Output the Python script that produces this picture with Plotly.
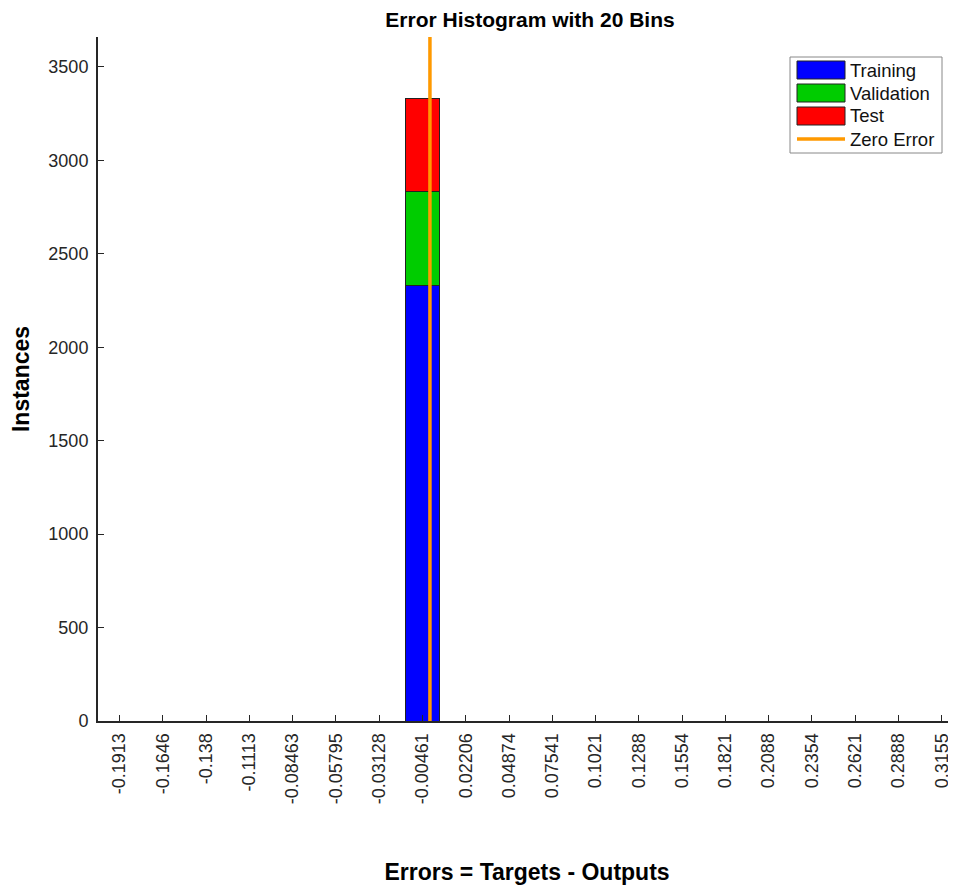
import plotly.graph_objects as go

bin_centers = [-0.1913, -0.1646, -0.138, -0.1113, -0.08463, -0.05795, -0.03128, -0.00461,
               0.02206, 0.04874, 0.07541, 0.1021, 0.1288, 0.1554, 0.1821, 0.2088,
               0.2354, 0.2621, 0.2888, 0.3155]
tick_labels = ["-0.1913", "-0.1646", "-0.138", "-0.1113", "-0.08463", "-0.05795", "-0.03128", "-0.00461",
               "0.02206", "0.04874", "0.07541", "0.1021", "0.1288", "0.1554", "0.1821", "0.2088",
               "0.2354", "0.2621", "0.2888", "0.3155"]
training = [0, 0, 0, 0, 0, 0, 0, 2333, 0, 0, 0, 0, 0, 0, 0, 0, 0, 0, 0, 0]
validation = [0, 0, 0, 0, 0, 0, 0, 500, 0, 0, 0, 0, 0, 0, 0, 0, 0, 0, 0, 0]
test = [0, 0, 0, 0, 0, 0, 0, 497, 0, 0, 0, 0, 0, 0, 0, 0, 0, 0, 0, 0]
zero_error = 0.0

series = [("Training", training, "#0000FF"),
          ("Validation", validation, "#00CC00"),
          ("Test", test, "#FF0000")]
zero_color = "#FF9900"

bin_w = (bin_centers[-1] - bin_centers[0]) / (len(bin_centers) - 1)
bar_w = bin_w * 0.8
font = "Liberation Sans, Arial, sans-serif"

OFF = 8  # page body margin
W, H = 956 - OFF, 886 - OFF
L, R, T = 98 - OFF, 0, 37 - OFF
B = H - (721 - OFF)
PW, PH = W - L - R, H - T - B


def px(x):  # page pixel x -> paper
    return (x - OFF - L) / PW


def py(y):  # page pixel y -> paper
    return (H - B - (y - OFF)) / PH


fig = go.Figure()
for name, vals, col in series:
    fig.add_trace(go.Bar(x=bin_centers, y=vals, name=name, width=bar_w, showlegend=False,
                         marker=dict(color=col, line=dict(color="#222222", width=1))))

fig.add_trace(go.Scatter(x=[zero_error, zero_error], y=[0, 3700], mode="lines", showlegend=False,
                         name="Zero Error", line=dict(color=zero_color, width=3.5)))

# custom MATLAB-like legend
shapes = [dict(type="rect", xref="paper", yref="paper", x0=px(790), x1=px(942), y0=py(153), y1=py(57),
               line=dict(color="#888888", width=1), fillcolor="white")]
annos = []
rows = [(61, 79), (84, 102), (107, 125)]
for (name, _, col), (y0, y1) in zip(series, rows):
    shapes.append(dict(type="rect", xref="paper", yref="paper", x0=px(797), x1=px(845),
                       y0=py(y1), y1=py(y0), line=dict(color="#222222", width=1), fillcolor=col))
    annos.append(dict(text=name, xref="paper", yref="paper", x=px(848), y=py((y0 + y1) / 2),
                      xanchor="left", yanchor="middle", showarrow=False,
                      font=dict(size=18.5, color="#111111", family=font)))
shapes.append(dict(type="line", xref="paper", yref="paper", x0=px(797), x1=px(845),
                   y0=py(139), y1=py(139), line=dict(color=zero_color, width=3.5)))
annos.append(dict(text="Zero Error", xref="paper", yref="paper", x=px(848), y=py(139),
                  xanchor="left", yanchor="middle", showarrow=False,
                  font=dict(size=18.5, color="#111111", family=font)))

fig.update_layout(
    barmode="stack",
    width=W, height=H,
    margin=dict(l=L, r=R, t=T, b=B, autoexpand=False),
    paper_bgcolor="white", plot_bgcolor="white",
    font=dict(family=font, size=18, color="#262626"),
    title=dict(text="<b>Error Histogram with 20 Bins</b>", x=(530 - OFF) / W, xanchor="center",
               y=1 - 4 / H, yanchor="top", pad=dict(t=0, b=0),
               font=dict(size=21, color="black")),
    shapes=shapes, annotations=annos,
    showlegend=False,
)
fig.update_xaxes(
    range=[bin_centers[0] - bin_w / 2, bin_centers[-1] + 0.33 * bin_w],
    tickmode="array", tickvals=bin_centers, ticktext=tick_labels, tickangle=-90,
    ticks="inside", ticklen=6, tickcolor="#262626", showline=True, linecolor="#262626",
    linewidth=2, showgrid=False, zeroline=False, automargin=False, ticklabelstandoff=3,
    tickfont=dict(size=18, color="#262626"),
    title=dict(text="<b>Errors = Targets - Outputs</b>", font=dict(size=23, color="black"), standoff=61),
)
fig.update_yaxes(
    range=[0, 3660], tickvals=[0, 500, 1000, 1500, 2000, 2500, 3000, 3500],
    ticks="inside", ticklen=6, tickcolor="#262626", showline=True, linecolor="#262626",
    linewidth=2, showgrid=False, zeroline=False, automargin=False, ticklabelstandoff=4,
    tickfont=dict(size=18, color="#262626"),
    title=dict(text="<b>Instances</b>", font=dict(size=23, color="black"), standoff=17),
)
fig.write_html("out.html")
